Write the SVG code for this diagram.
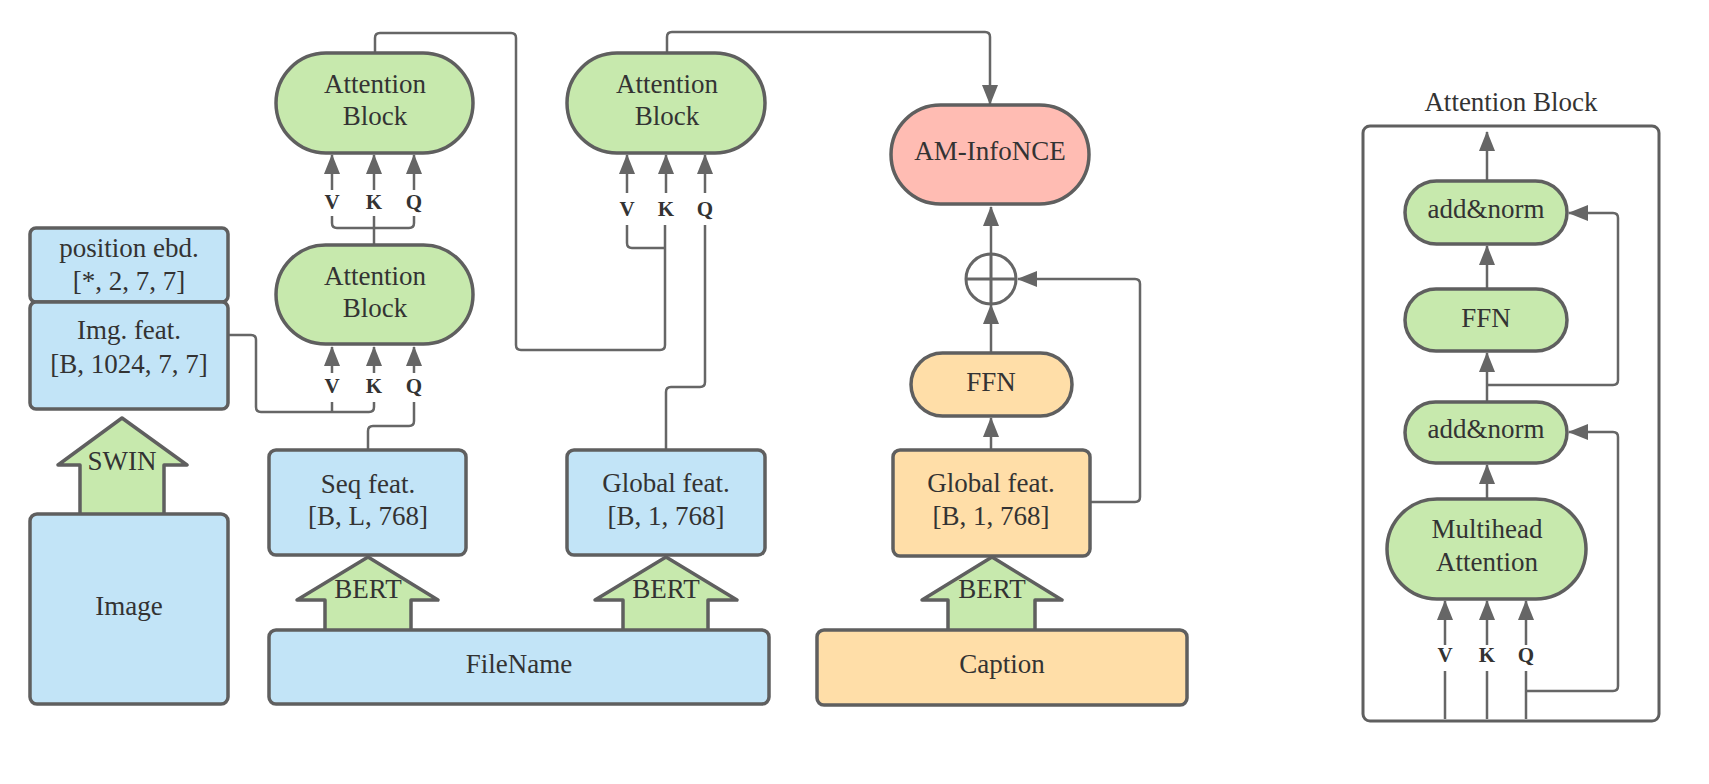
<svg xmlns="http://www.w3.org/2000/svg" width="1709" height="784" viewBox="0 0 1709 784">
<style>
.blue{fill:#c2e4f7;stroke:#5f5f5f;stroke-width:3.5}
.green{fill:#c7e9ad;stroke:#5f5f5f;stroke-width:3.5}
.orange{fill:#ffdea8;stroke:#5f5f5f;stroke-width:3.5}
.pink{fill:#ffbcb3;stroke:#5f5f5f;stroke-width:3.5}
.frame{fill:none;stroke:#5f5f5f;stroke-width:3}
.arr{fill:#c7e9ad;stroke:#5f5f5f;stroke-width:3.5;stroke-linejoin:round}
.t{font-family:"Liberation Serif","Times New Roman",serif;font-size:27px;fill:#333;text-anchor:middle}
.lab{font-family:"Liberation Serif","Times New Roman",serif;font-size:21px;font-weight:bold;fill:#333;text-anchor:middle}
.c{fill:none;stroke:#666;stroke-width:2.5}
.ca{fill:none;stroke:#666;stroke-width:2.5;marker-end:url(#ah)}
</style>
<defs>
<marker id="ah" viewBox="0 0 20 16" refX="19" refY="8" markerWidth="20" markerHeight="16" markerUnits="userSpaceOnUse" orient="auto">
<path d="M0,0 L20,8 L0,16 z" fill="#666"/>
</marker>
</defs>
<rect width="1709" height="784" fill="#fff"/>

<g id="connectors">
<path class="ca" d="M332,373 V347"/>
<path class="ca" d="M374,373 V347"/>
<path class="ca" d="M414,373 V347"/>
<path class="c" d="M228,335 H251 Q256,335 256,340 V407 Q256,412 261,412 H369 Q374,412 374,407 V402"/>
<path class="c" d="M332,402 V412"/>
<path class="c" d="M368,450 V431 Q368,426 373,426 H409 Q414,426 414,421 V402"/>
<path class="ca" d="M332,190 V155"/>
<path class="ca" d="M374,190 V155"/>
<path class="ca" d="M414,190 V155"/>
<path class="c" d="M332,216 V223 Q332,228 337,228 H409 Q414,228 414,223 V216"/>
<path class="c" d="M374,216 V245"/>
<path class="c" d="M375,53 V38 Q375,33 380,33 H511 Q516,33 516,38 V345 Q516,350 521,350 H660 Q665,350 665,345 V225"/>
<path class="c" d="M665,248 H632 Q627,248 627,243 V225"/>
<path class="ca" d="M627,193 V155"/>
<path class="ca" d="M666,193 V155"/>
<path class="ca" d="M705,193 V155"/>
<path class="c" d="M705,225 V382 Q705,387 700,387 H671 Q666,387 666,392 V449"/>
<path class="ca" d="M667,53 V37 Q667,32 672,32 H985 Q990,32 990,37 V104"/>
<path class="ca" d="M991,450 V418"/>
<path class="ca" d="M991,353 V305"/>
<path class="ca" d="M991,253 V207"/>
<path class="ca" d="M1090,502 H1135 Q1140,502 1140,497 V284 Q1140,279 1135,279 H1018"/>
<path class="ca" d="M1487,181 V132"/>
<path class="ca" d="M1487,289 V246"/>
<path class="ca" d="M1487,402 V353"/>
<path class="ca" d="M1487,385 H1613 Q1618,385 1618,380 V218 Q1618,213 1613,213 H1569"/>
<path class="ca" d="M1487,499 V465"/>
<path class="ca" d="M1445,645 V601"/>
<path class="ca" d="M1487,645 V601"/>
<path class="ca" d="M1526,645 V601"/>
<path class="c" d="M1445,719 V671 M1487,719 V671 M1526,719 V671"/>
<path class="ca" d="M1526,691 H1613 Q1618,691 1618,686 V437 Q1618,432 1613,432 H1569"/>
</g>

<g id="swin"><path class="arr" d="M122,418 L187,465 L164,465 L164,516 L80,516 L80,465 L58,465 Z"/><text class="t" x="122" y="470">SWIN</text></g>
<g id="bert1"><path class="arr" d="M368,557 L438,600 L411,600 L411,632 L325,632 L325,600 L297,600 Z"/><text class="t" x="368" y="598">BERT</text></g>
<g id="bert2"><path class="arr" d="M666,557 L737,600 L708,600 L708,632 L623,632 L623,600 L595,600 Z"/><text class="t" x="666" y="598">BERT</text></g>
<g id="bert3"><path class="arr" d="M992,557 L1062,600 L1035,600 L1035,632 L948,632 L948,600 L922,600 Z"/><text class="t" x="992" y="598">BERT</text></g>

<g id="posebd"><rect class="blue" x="30" y="228" width="198" height="74" rx="6"/><text class="t" x="129" y="257">position ebd.</text><text class="t" x="129" y="290">[*, 2, 7, 7]</text></g>
<g id="imgfeat"><rect class="blue" x="30" y="302" width="198" height="107" rx="6"/><text class="t" x="129" y="339">Img. feat.</text><text class="t" x="129" y="373">[B, 1024, 7, 7]</text></g>
<g id="image"><rect class="blue" x="30" y="514" width="198" height="190" rx="7"/><text class="t" x="129" y="615">Image</text></g>
<g id="seqfeat"><rect class="blue" x="269" y="450" width="197" height="105" rx="7"/><text class="t" x="368" y="493">Seq feat.</text><text class="t" x="368" y="525">[B, L, 768]</text></g>
<g id="globalblue"><rect class="blue" x="567" y="450" width="198" height="105" rx="7"/><text class="t" x="666" y="492">Global feat.</text><text class="t" x="666" y="525">[B, 1, 768]</text></g>
<g id="filename"><rect class="blue" x="269" y="630" width="500" height="74" rx="7"/><text class="t" x="519" y="673">FileName</text></g>
<g id="globalorange"><rect class="orange" x="893" y="450" width="197" height="106" rx="7"/><text class="t" x="991" y="492">Global feat.</text><text class="t" x="991" y="525">[B, 1, 768]</text></g>
<g id="caption"><rect class="orange" x="817" y="630" width="370" height="75" rx="7"/><text class="t" x="1002" y="673">Caption</text></g>
<g id="ffn1"><rect class="orange" x="911" y="353" width="161" height="63" rx="31.5"/><text class="t" x="991" y="391">FFN</text></g>
<g id="plus"><circle cx="991" cy="279" r="25" fill="#fff" stroke="#666" stroke-width="3"/><path d="M966,279 H1016 M991,254 V304" stroke="#666" stroke-width="3"/></g>
<g id="aminfonce"><rect class="pink" x="891" y="105" width="198" height="99" rx="49.5"/><text class="t" x="990" y="160">AM-InfoNCE</text></g>

<g id="attn_ul"><rect class="green" x="276" y="53" width="197" height="100" rx="50"/><text class="t" x="375" y="93">Attention</text><text class="t" x="375" y="125">Block</text>
<text class="lab" x="332" y="209">V</text><text class="lab" x="374" y="209">K</text><text class="lab" x="414" y="209">Q</text></g>
<g id="attn_ll"><rect class="green" x="276" y="245" width="197" height="99" rx="49.5"/><text class="t" x="375" y="285">Attention</text><text class="t" x="375" y="317">Block</text>
<text class="lab" x="332" y="393">V</text><text class="lab" x="374" y="393">K</text><text class="lab" x="414" y="393">Q</text></g>
<g id="attn_mid"><rect class="green" x="567" y="53" width="198" height="100" rx="50"/><text class="t" x="667" y="93">Attention</text><text class="t" x="667" y="125">Block</text>
<text class="lab" x="627" y="216">V</text><text class="lab" x="666" y="216">K</text><text class="lab" x="705" y="216">Q</text></g>

<g id="panel">
<text class="t" x="1511" y="111">Attention Block</text>
<rect class="frame" x="1363" y="126" width="296" height="595" rx="7"/>
</g>
<g id="addnorm2"><rect class="green" x="1405" y="181" width="162" height="63" rx="31.5"/><text class="t" x="1486" y="218">add&amp;norm</text></g>
<g id="ffn2"><rect class="green" x="1405" y="289" width="162" height="62" rx="31"/><text class="t" x="1486" y="327">FFN</text></g>
<g id="addnorm1"><rect class="green" x="1405" y="402" width="162" height="61" rx="30.5"/><text class="t" x="1486" y="438">add&amp;norm</text></g>
<g id="multihead"><rect class="green" x="1387" y="499" width="199" height="100" rx="50"/><text class="t" x="1487" y="538">Multihead</text><text class="t" x="1487" y="571">Attention</text></g>
<g id="panel_labels"><text class="lab" x="1445" y="662">V</text><text class="lab" x="1487" y="662">K</text><text class="lab" x="1526" y="662">Q</text></g>
</svg>
